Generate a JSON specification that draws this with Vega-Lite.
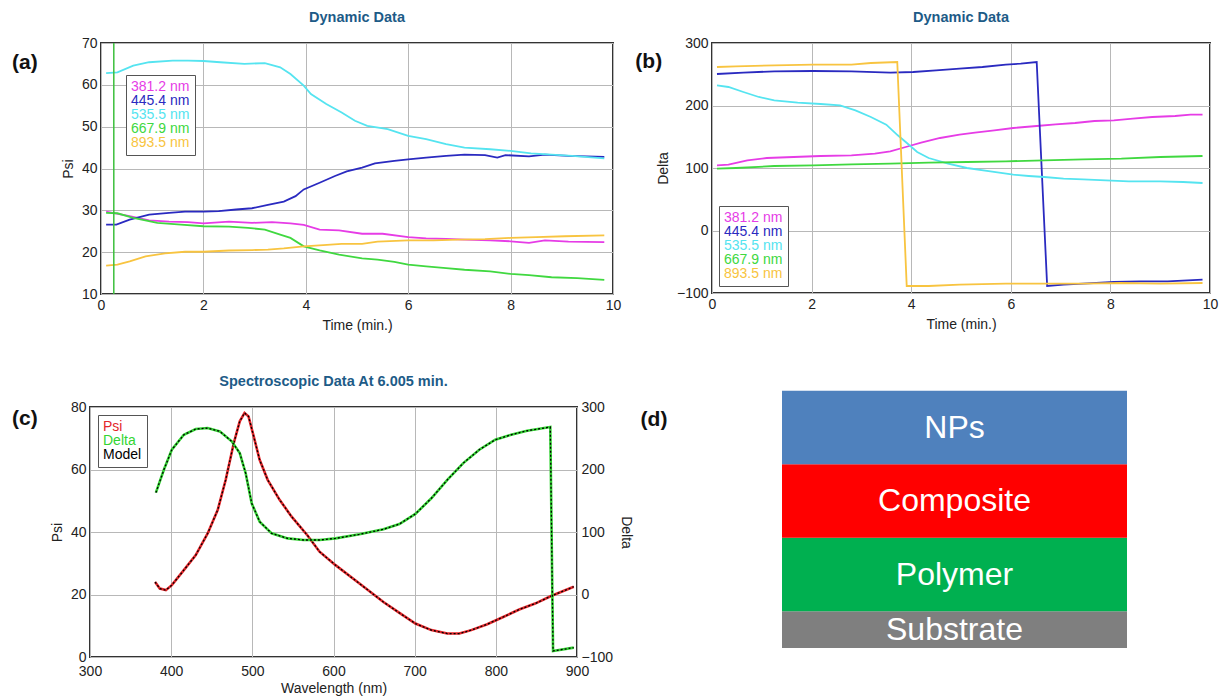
{
  "$schema": "https://vega.github.io/schema/vega-lite/v6.json",
  "background": "white",
  "padding": {"left": 12, "top": 8, "right": 3, "bottom": 0},
  "datasets": {
    "a": [
      {"s":"381.2 nm","t":0.1,"v":29.7},{"s":"381.2 nm","t":0.56,"v":28.6},{"s":"381.2 nm","t":0.94,"v":27.6},{"s":"381.2 nm","t":1.33,"v":27.3},{"s":"381.2 nm","t":1.7,"v":27.2},{"s":"381.2 nm","t":2.0,"v":26.9},{"s":"381.2 nm","t":2.5,"v":27.3},{"s":"381.2 nm","t":2.95,"v":27.0},{"s":"381.2 nm","t":3.34,"v":27.2},{"s":"381.2 nm","t":3.7,"v":26.9},{"s":"381.2 nm","t":3.96,"v":26.5},{"s":"381.2 nm","t":4.27,"v":25.4},{"s":"381.2 nm","t":4.65,"v":25.2},{"s":"381.2 nm","t":5.1,"v":24.4},{"s":"381.2 nm","t":5.5,"v":24.4},{"s":"381.2 nm","t":6.0,"v":23.6},{"s":"381.2 nm","t":6.35,"v":23.3},{"s":"381.2 nm","t":6.74,"v":23.2},{"s":"381.2 nm","t":7.1,"v":23.0},{"s":"381.2 nm","t":7.6,"v":22.8},{"s":"381.2 nm","t":8.0,"v":22.6},{"s":"381.2 nm","t":8.36,"v":22.2},{"s":"381.2 nm","t":8.67,"v":22.8},{"s":"381.2 nm","t":9.13,"v":22.5},{"s":"381.2 nm","t":9.83,"v":22.4},
      {"s":"445.4 nm","t":0.1,"v":26.6},{"s":"445.4 nm","t":0.3,"v":26.6},{"s":"445.4 nm","t":0.56,"v":27.8},{"s":"445.4 nm","t":0.94,"v":29.0},{"s":"445.4 nm","t":1.33,"v":29.4},{"s":"445.4 nm","t":1.64,"v":29.7},{"s":"445.4 nm","t":2.0,"v":29.7},{"s":"445.4 nm","t":2.3,"v":29.8},{"s":"445.4 nm","t":2.64,"v":30.2},{"s":"445.4 nm","t":2.95,"v":30.5},{"s":"445.4 nm","t":3.26,"v":31.3},{"s":"445.4 nm","t":3.57,"v":32.1},{"s":"445.4 nm","t":3.8,"v":33.4},{"s":"445.4 nm","t":3.96,"v":35.0},{"s":"445.4 nm","t":4.27,"v":36.6},{"s":"445.4 nm","t":4.57,"v":38.2},{"s":"445.4 nm","t":4.8,"v":39.3},{"s":"445.4 nm","t":5.1,"v":40.2},{"s":"445.4 nm","t":5.35,"v":41.2},{"s":"445.4 nm","t":5.73,"v":41.8},{"s":"445.4 nm","t":6.0,"v":42.2},{"s":"445.4 nm","t":6.35,"v":42.6},{"s":"445.4 nm","t":6.74,"v":43.0},{"s":"445.4 nm","t":7.1,"v":43.3},{"s":"445.4 nm","t":7.5,"v":43.2},{"s":"445.4 nm","t":7.74,"v":42.6},{"s":"445.4 nm","t":7.9,"v":43.2},{"s":"445.4 nm","t":8.36,"v":42.9},{"s":"445.4 nm","t":8.67,"v":43.3},{"s":"445.4 nm","t":9.13,"v":43.0},{"s":"445.4 nm","t":9.83,"v":42.8},
      {"s":"535.5 nm","t":0.1,"v":62.8},{"s":"535.5 nm","t":0.32,"v":63.0},{"s":"535.5 nm","t":0.63,"v":64.6},{"s":"535.5 nm","t":0.94,"v":65.4},{"s":"535.5 nm","t":1.4,"v":65.8},{"s":"535.5 nm","t":1.7,"v":65.8},{"s":"535.5 nm","t":2.0,"v":65.7},{"s":"535.5 nm","t":2.33,"v":65.4},{"s":"535.5 nm","t":2.8,"v":65.0},{"s":"535.5 nm","t":3.2,"v":65.2},{"s":"535.5 nm","t":3.5,"v":64.2},{"s":"535.5 nm","t":3.7,"v":62.6},{"s":"535.5 nm","t":3.96,"v":59.8},{"s":"535.5 nm","t":4.1,"v":57.8},{"s":"535.5 nm","t":4.4,"v":55.4},{"s":"535.5 nm","t":4.7,"v":53.4},{"s":"535.5 nm","t":4.96,"v":51.4},{"s":"535.5 nm","t":5.2,"v":50.2},{"s":"535.5 nm","t":5.6,"v":49.4},{"s":"535.5 nm","t":6.0,"v":47.8},{"s":"535.5 nm","t":6.35,"v":47.0},{"s":"535.5 nm","t":6.74,"v":45.8},{"s":"535.5 nm","t":7.1,"v":45.0},{"s":"535.5 nm","t":7.6,"v":44.6},{"s":"535.5 nm","t":8.0,"v":44.2},{"s":"535.5 nm","t":8.4,"v":43.6},{"s":"535.5 nm","t":8.8,"v":43.3},{"s":"535.5 nm","t":9.2,"v":43.0},{"s":"535.5 nm","t":9.83,"v":42.4},
      {"s":"667.9 nm","t":0.1,"v":29.4},{"s":"667.9 nm","t":0.32,"v":29.3},{"s":"667.9 nm","t":0.63,"v":28.2},{"s":"667.9 nm","t":1.1,"v":27.0},{"s":"667.9 nm","t":1.56,"v":26.6},{"s":"667.9 nm","t":2.0,"v":26.2},{"s":"667.9 nm","t":2.5,"v":26.1},{"s":"667.9 nm","t":2.87,"v":25.8},{"s":"667.9 nm","t":3.2,"v":25.4},{"s":"667.9 nm","t":3.5,"v":24.2},{"s":"667.9 nm","t":3.7,"v":23.4},{"s":"667.9 nm","t":3.96,"v":21.4},{"s":"667.9 nm","t":4.27,"v":20.4},{"s":"667.9 nm","t":4.65,"v":19.4},{"s":"667.9 nm","t":5.1,"v":18.5},{"s":"667.9 nm","t":5.4,"v":18.2},{"s":"667.9 nm","t":5.73,"v":17.7},{"s":"667.9 nm","t":6.0,"v":17.0},{"s":"667.9 nm","t":6.35,"v":16.6},{"s":"667.9 nm","t":6.74,"v":16.2},{"s":"667.9 nm","t":7.1,"v":15.8},{"s":"667.9 nm","t":7.6,"v":15.4},{"s":"667.9 nm","t":8.0,"v":14.8},{"s":"667.9 nm","t":8.36,"v":14.5},{"s":"667.9 nm","t":8.8,"v":14.0},{"s":"667.9 nm","t":9.3,"v":13.8},{"s":"667.9 nm","t":9.83,"v":13.4},
      {"s":"893.5 nm","t":0.1,"v":16.8},{"s":"893.5 nm","t":0.32,"v":17.0},{"s":"893.5 nm","t":0.56,"v":17.8},{"s":"893.5 nm","t":0.87,"v":19.0},{"s":"893.5 nm","t":1.25,"v":19.7},{"s":"893.5 nm","t":1.64,"v":20.1},{"s":"893.5 nm","t":2.0,"v":20.1},{"s":"893.5 nm","t":2.5,"v":20.4},{"s":"893.5 nm","t":2.95,"v":20.5},{"s":"893.5 nm","t":3.26,"v":20.6},{"s":"893.5 nm","t":3.57,"v":20.9},{"s":"893.5 nm","t":3.96,"v":21.4},{"s":"893.5 nm","t":4.34,"v":21.7},{"s":"893.5 nm","t":4.7,"v":22.0},{"s":"893.5 nm","t":5.1,"v":22.0},{"s":"893.5 nm","t":5.4,"v":22.5},{"s":"893.5 nm","t":6.0,"v":22.8},{"s":"893.5 nm","t":6.5,"v":22.8},{"s":"893.5 nm","t":6.97,"v":23.0},{"s":"893.5 nm","t":7.5,"v":23.1},{"s":"893.5 nm","t":8.0,"v":23.4},{"s":"893.5 nm","t":8.5,"v":23.6},{"s":"893.5 nm","t":9.06,"v":23.8},{"s":"893.5 nm","t":9.83,"v":24.0}
    ],
    "b": [
      {"s":"381.2 nm","t":0.1,"v":104.3},{"s":"381.2 nm","t":0.33,"v":105.3},{"s":"381.2 nm","t":0.71,"v":112.3},{"s":"381.2 nm","t":1.1,"v":116},{"s":"381.2 nm","t":1.64,"v":117.6},{"s":"381.2 nm","t":2.18,"v":119.2},{"s":"381.2 nm","t":2.8,"v":120.3},{"s":"381.2 nm","t":3.27,"v":123},{"s":"381.2 nm","t":3.58,"v":126.7},{"s":"381.2 nm","t":3.89,"v":133.6},{"s":"381.2 nm","t":4.2,"v":140.5},{"s":"381.2 nm","t":4.58,"v":148},{"s":"381.2 nm","t":4.97,"v":153.3},{"s":"381.2 nm","t":5.28,"v":156.5},{"s":"381.2 nm","t":5.67,"v":160.3},{"s":"381.2 nm","t":6.05,"v":164},{"s":"381.2 nm","t":6.52,"v":167.2},{"s":"381.2 nm","t":6.9,"v":169.9},{"s":"381.2 nm","t":7.29,"v":172},{"s":"381.2 nm","t":7.68,"v":175.2},{"s":"381.2 nm","t":8.07,"v":176.3},{"s":"381.2 nm","t":8.45,"v":178.9},{"s":"381.2 nm","t":8.84,"v":181.6},{"s":"381.2 nm","t":9.3,"v":183.2},{"s":"381.2 nm","t":9.61,"v":185.3},{"s":"381.2 nm","t":9.85,"v":185.3},
      {"s":"445.4 nm","t":0.1,"v":250.4},{"s":"445.4 nm","t":0.63,"v":252.5},{"s":"445.4 nm","t":1.25,"v":254.7},{"s":"445.4 nm","t":2.03,"v":255.2},{"s":"445.4 nm","t":2.8,"v":254.7},{"s":"445.4 nm","t":3.58,"v":252.5},{"s":"445.4 nm","t":4.04,"v":253.6},{"s":"445.4 nm","t":4.5,"v":256.3},{"s":"445.4 nm","t":4.97,"v":259},{"s":"445.4 nm","t":5.43,"v":261.6},{"s":"445.4 nm","t":5.9,"v":265.3},{"s":"445.4 nm","t":6.2,"v":267},{"s":"445.4 nm","t":6.52,"v":269.6},{"s":"445.4 nm","t":6.73,"v":-88.8},{"s":"445.4 nm","t":7.06,"v":-86.7},{"s":"445.4 nm","t":7.45,"v":-85},{"s":"445.4 nm","t":8.07,"v":-82.4},{"s":"445.4 nm","t":8.6,"v":-81.3},{"s":"445.4 nm","t":9.15,"v":-81.3},{"s":"445.4 nm","t":9.85,"v":-78.7},
      {"s":"535.5 nm","t":0.1,"v":232.3},{"s":"535.5 nm","t":0.33,"v":229.6},{"s":"535.5 nm","t":0.63,"v":221.6},{"s":"535.5 nm","t":0.94,"v":213.6},{"s":"535.5 nm","t":1.25,"v":208.3},{"s":"535.5 nm","t":1.72,"v":204.5},{"s":"535.5 nm","t":2.18,"v":202.4},{"s":"535.5 nm","t":2.57,"v":200.3},{"s":"535.5 nm","t":2.88,"v":192.3},{"s":"535.5 nm","t":3.19,"v":181.6},{"s":"535.5 nm","t":3.5,"v":169.3},{"s":"535.5 nm","t":3.73,"v":152.3},{"s":"535.5 nm","t":3.89,"v":141.6},{"s":"535.5 nm","t":4.12,"v":125.6},{"s":"535.5 nm","t":4.35,"v":116},{"s":"535.5 nm","t":4.74,"v":106.9},{"s":"535.5 nm","t":5.12,"v":100},{"s":"535.5 nm","t":5.59,"v":94.7},{"s":"535.5 nm","t":6.05,"v":89.3},{"s":"535.5 nm","t":6.36,"v":87.2},{"s":"535.5 nm","t":6.67,"v":85.6},{"s":"535.5 nm","t":7.06,"v":82.9},{"s":"535.5 nm","t":7.45,"v":81.9},{"s":"535.5 nm","t":7.91,"v":80.3},{"s":"535.5 nm","t":8.37,"v":78.7},{"s":"535.5 nm","t":9.0,"v":78.7},{"s":"535.5 nm","t":9.46,"v":77.6},{"s":"535.5 nm","t":9.85,"v":76},
      {"s":"667.9 nm","t":0.1,"v":99},{"s":"667.9 nm","t":0.48,"v":100},{"s":"667.9 nm","t":1.25,"v":103.2},{"s":"667.9 nm","t":2.03,"v":104.3},{"s":"667.9 nm","t":2.8,"v":105.9},{"s":"667.9 nm","t":3.58,"v":107},{"s":"667.9 nm","t":4.35,"v":108.5},{"s":"667.9 nm","t":5.12,"v":109.6},{"s":"667.9 nm","t":5.9,"v":110.7},{"s":"667.9 nm","t":6.67,"v":112.3},{"s":"667.9 nm","t":7.45,"v":113.9},{"s":"667.9 nm","t":8.22,"v":115},{"s":"667.9 nm","t":9.0,"v":117.6},{"s":"667.9 nm","t":9.85,"v":119.2},
      {"s":"893.5 nm","t":0.1,"v":261.6},{"s":"893.5 nm","t":0.48,"v":262.7},{"s":"893.5 nm","t":1.25,"v":264.3},{"s":"893.5 nm","t":2.03,"v":265.3},{"s":"893.5 nm","t":2.8,"v":265.3},{"s":"893.5 nm","t":3.19,"v":268},{"s":"893.5 nm","t":3.72,"v":269.6},{"s":"893.5 nm","t":3.91,"v":-88.8},{"s":"893.5 nm","t":4.35,"v":-88.8},{"s":"893.5 nm","t":4.97,"v":-86.7},{"s":"893.5 nm","t":5.9,"v":-85},{"s":"893.5 nm","t":6.67,"v":-85},{"s":"893.5 nm","t":7.45,"v":-85},{"s":"893.5 nm","t":8.2,"v":-84},{"s":"893.5 nm","t":9.0,"v":-85},{"s":"893.5 nm","t":9.85,"v":-84}
    ],
    "c": [
      {"s":"Psi","wl":380.2,"v":24.0},{"s":"Psi","wl":386,"v":21.9},{"s":"Psi","wl":393.5,"v":21.4},{"s":"Psi","wl":400.8,"v":23.0},{"s":"Psi","wl":415.6,"v":27.8},{"s":"Psi","wl":430.3,"v":32.6},{"s":"Psi","wl":445.1,"v":39.6},{"s":"Psi","wl":457.4,"v":47.1},{"s":"Psi","wl":467.2,"v":56.7},{"s":"Psi","wl":477.1,"v":68.4},{"s":"Psi","wl":484.5,"v":75.4},{"s":"Psi","wl":490.4,"v":78.1},{"s":"Psi","wl":495.3,"v":77.0},{"s":"Psi","wl":501.7,"v":70.6},{"s":"Psi","wl":509,"v":63.1},{"s":"Psi","wl":518.9,"v":56.7},{"s":"Psi","wl":533.6,"v":50.3},{"s":"Psi","wl":548.4,"v":44.9},{"s":"Psi","wl":568,"v":38.9},{"s":"Psi","wl":582.8,"v":33.7},{"s":"Psi","wl":602.5,"v":29.4},{"s":"Psi","wl":632,"v":23.5},{"s":"Psi","wl":661.5,"v":17.6},{"s":"Psi","wl":681.2,"v":14.1},{"s":"Psi","wl":700.9,"v":10.7},{"s":"Psi","wl":720.6,"v":8.6},{"s":"Psi","wl":740.2,"v":7.5},{"s":"Psi","wl":755,"v":7.5},{"s":"Psi","wl":769.7,"v":8.6},{"s":"Psi","wl":789.4,"v":10.5},{"s":"Psi","wl":809.1,"v":12.8},{"s":"Psi","wl":828.8,"v":15.2},{"s":"Psi","wl":848.4,"v":17.1},{"s":"Psi","wl":868.1,"v":19.5},{"s":"Psi","wl":896,"v":22.5},
      {"s":"Delta","wl":381.2,"v":163},{"s":"Delta","wl":391,"v":199.5},{"s":"Delta","wl":400.8,"v":231.6},{"s":"Delta","wl":415.6,"v":255.6},{"s":"Delta","wl":430.3,"v":264.7},{"s":"Delta","wl":445.1,"v":266.3},{"s":"Delta","wl":459.9,"v":261},{"s":"Delta","wl":474.6,"v":245},{"s":"Delta","wl":484.5,"v":226.3},{"s":"Delta","wl":491.8,"v":194.1},{"s":"Delta","wl":499.2,"v":146},{"s":"Delta","wl":509,"v":116.6},{"s":"Delta","wl":523.8,"v":97.9},{"s":"Delta","wl":543.5,"v":89.8},{"s":"Delta","wl":563.2,"v":87.2},{"s":"Delta","wl":582.8,"v":87.2},{"s":"Delta","wl":602.5,"v":89.8},{"s":"Delta","wl":632,"v":96.3},{"s":"Delta","wl":661.5,"v":104.3},{"s":"Delta","wl":681.2,"v":112.8},{"s":"Delta","wl":700.9,"v":128.9},{"s":"Delta","wl":720.6,"v":154},{"s":"Delta","wl":740.2,"v":183.4},{"s":"Delta","wl":759.9,"v":210.2},{"s":"Delta","wl":779.6,"v":231.6},{"s":"Delta","wl":799.3,"v":247.6},{"s":"Delta","wl":818.9,"v":255.6},{"s":"Delta","wl":838.6,"v":262},{"s":"Delta","wl":867.1,"v":267.9},{"s":"Delta","wl":870.5,"v":-90.4},{"s":"Delta","wl":896,"v":-85}
    ],
    "d": [
      {"layer":"Substrate","thick":1,"ord":1},
      {"layer":"Polymer","thick":2,"ord":2},
      {"layer":"Composite","thick":2,"ord":3},
      {"layer":"NPs","thick":2,"ord":4}
    ]
  },
  "spacing": 39,
  "resolve": {"scale": {"color": "independent"}, "legend": {"color": "independent"}},
  "vconcat": [
    {
      "spacing": 12,
      "resolve": {"scale": {"color": "independent", "x": "independent"}, "legend": {"color": "independent"}},
      "hconcat": [
        {
          "width": 36, "height": 40,
          "view": {"stroke": null},
          "data": {"values": [{"lbl": "(a)"}]},
          "mark": {"type": "text", "fontSize": 21, "fontWeight": "bold", "color": "#111", "align": "left"},
          "encoding": {"x": {"datum": 0, "type": "quantitative", "scale": {"domain": [0, 1]}, "axis": null}, "text": {"field": "lbl"}}
        },
        {
          "width": 512, "height": 251,
          "title": "Dynamic Data",
          "layer": [
            {
              "data": {"name": "a"},
              "mark": {"type": "line", "strokeWidth": 1.8},
              "encoding": {
                "x": {"field": "t", "type": "quantitative", "scale": {"domain": [0, 10], "nice": false}, "axis": {"title": "Time (min.)", "values": [0, 2, 4, 6, 8, 10]}},
                "y": {"field": "v", "type": "quantitative", "scale": {"domain": [10, 70], "nice": false, "zero": false}, "axis": {"title": "Psi", "values": [10, 20, 30, 40, 50, 60, 70]}},
                "color": {"field": "s", "type": "nominal",
                  "scale": {"domain": ["381.2 nm", "445.4 nm", "535.5 nm", "667.9 nm", "893.5 nm"], "range": ["#e63ce6", "#2a2ac0", "#55e4f0", "#40d840", "#f8c440"]},
                  "legend": {"title": null, "orient": "none", "legendX": 25, "legendY": 32, "symbolSize": 0, "symbolStrokeWidth": 0, "labelOffset": -14,
                    "encode": {"labels": {"update": {"fill": {"signal": "datum.value == '381.2 nm' ? '#e63ce6' : datum.value == '445.4 nm' ? '#2a2ac0' : datum.value == '535.5 nm' ? '#55e4f0' : datum.value == '667.9 nm' ? '#40d840' : '#f8c440'"}}}}}}
              }
            },
            {
              "data": {"values": [{"t": 0.25}]},
              "mark": {"type": "rule", "color": "#3cbf3c", "strokeWidth": 1.5},
              "encoding": {"x": {"field": "t", "type": "quantitative"}}
            }
          ]
        },
        {
          "width": 498, "height": 250,
          "title": "Dynamic Data",
          "layer": [
            {
              "data": {"name": "b"},
              "mark": {"type": "line", "strokeWidth": 1.8},
              "encoding": {
                "x": {"field": "t", "type": "quantitative", "scale": {"domain": [0, 10], "nice": false}, "axis": {"title": "Time (min.)", "values": [0, 2, 4, 6, 8, 10]}},
                "y": {"field": "v", "type": "quantitative", "scale": {"domain": [-100, 300], "nice": false}, "axis": {"title": "Delta", "values": [-100, 0, 100, 200, 300]}},
                "color": {"field": "s", "type": "nominal",
                  "scale": {"domain": ["381.2 nm", "445.4 nm", "535.5 nm", "667.9 nm", "893.5 nm"], "range": ["#e63ce6", "#2a2ac0", "#55e4f0", "#40d840", "#f8c440"]},
                  "legend": {"title": null, "orient": "bottom-left", "offset": 7, "symbolSize": 0, "symbolStrokeWidth": 0, "labelOffset": -14,
                    "encode": {"labels": {"update": {"fill": {"signal": "datum.value == '381.2 nm' ? '#e63ce6' : datum.value == '445.4 nm' ? '#2a2ac0' : datum.value == '535.5 nm' ? '#55e4f0' : datum.value == '667.9 nm' ? '#40d840' : '#f8c440'"}}}}}}
              }
            },
            {
              "data": {"values": [{"lbl": "(b)"}]},
              "mark": {"type": "text", "fontSize": 21, "fontWeight": "bold", "color": "#111"},
              "encoding": {"x": {"datum": -1.27, "type": "quantitative"}, "y": {"datum": 269.6, "type": "quantitative"}, "text": {"field": "lbl"}}
            }
          ]
        }
      ]
    },
    {
      "spacing": 6,
      "resolve": {"scale": {"color": "independent", "x": "independent"}, "legend": {"color": "independent"}},
      "hconcat": [
        {
          "width": 31, "height": 24,
          "view": {"stroke": null},
          "data": {"values": [{"lbl": "(c)"}]},
          "mark": {"type": "text", "fontSize": 21, "fontWeight": "bold", "color": "#111", "align": "left"},
          "encoding": {"x": {"datum": 0, "type": "quantitative", "scale": {"domain": [0, 1]}, "axis": null}, "text": {"field": "lbl"}}
        },
        {
          "width": 487, "height": 250,
          "title": "Spectroscopic Data At 6.005 min.",
          "layer": [
            {
              "layer": [
                {
                  "data": {"name": "c"},
                  "transform": [{"filter": "datum.s == 'Psi'"}],
                  "mark": {"type": "line", "strokeWidth": 2.6},
                  "encoding": {
                    "x": {"field": "wl", "type": "quantitative", "scale": {"domain": [300, 900], "nice": false}, "axis": {"title": "Wavelength (nm)", "labelPadding": 7, "titlePadding": 3, "values": [300, 400, 500, 600, 700, 800, 900]}},
                    "y": {"field": "v", "type": "quantitative", "scale": {"domain": [0, 80], "nice": false}, "axis": {"title": "Psi", "values": [0, 20, 40, 60, 80]}},
                    "color": {"field": "s", "type": "nominal",
                      "scale": {"domain": ["Psi", "Delta", "Model"], "range": ["#e3262a", "#33d433", "#000000"]},
                      "legend": {"title": null, "orient": "top-left", "offset": 8, "symbolSize": 0, "symbolStrokeWidth": 0, "labelOffset": -14,
                        "encode": {"labels": {"update": {"fill": {"signal": "datum.value == 'Psi' ? '#e3262a' : datum.value == 'Delta' ? '#33d433' : '#000000'"}}}}}}
                  }
                },
                {
                  "data": {"name": "c"},
                  "transform": [{"filter": "datum.s == 'Psi'"}],
                  "mark": {"type": "line", "color": "#000000", "strokeWidth": 1.3, "strokeDash": [2, 2]},
                  "encoding": {"x": {"field": "wl", "type": "quantitative"}, "y": {"field": "v", "type": "quantitative"}}
                }
              ]
            },
            {
              "layer": [
                {
                  "data": {"name": "c"},
                  "transform": [{"filter": "datum.s == 'Delta'"}],
                  "mark": {"type": "line", "strokeWidth": 2.6},
                  "encoding": {
                    "x": {"field": "wl", "type": "quantitative"},
                    "y": {"field": "v", "type": "quantitative", "scale": {"domain": [-100, 300], "nice": false}, "axis": {"title": "Delta", "orient": "right", "grid": false, "values": [-100, 0, 100, 200, 300]}},
                    "color": {"field": "s", "type": "nominal"}
                  }
                },
                {
                  "data": {"name": "c"},
                  "transform": [{"filter": "datum.s == 'Delta'"}],
                  "mark": {"type": "line", "color": "#000000", "strokeWidth": 1.3, "strokeDash": [2, 2]},
                  "encoding": {"x": {"field": "wl", "type": "quantitative"}, "y": {"field": "v", "type": "quantitative"}}
                }
              ]
            }
          ],
          "resolve": {"scale": {"y": "independent"}}
        },
        {
          "width": 345, "height": 241,
          "view": {"stroke": null},
          "layer": [
            {
              "data": {"name": "d"},
              "transform": [{"stack": "thick", "groupby": [], "sort": [{"field": "ord", "order": "ascending"}], "as": ["y0", "y1"]}],
              "mark": {"type": "rect"},
              "encoding": {
                "y": {"field": "y0", "type": "quantitative", "scale": {"domain": [0, 6.56], "nice": false, "zero": false}, "axis": null},
                "y2": {"field": "y1"},
                "color": {"field": "layer", "type": "nominal", "scale": {"domain": ["NPs", "Composite", "Polymer", "Substrate"], "range": ["#4f81bd", "#ff0000", "#00b050", "#7f7f7f"]}, "legend": null}
              }
            },
            {
              "data": {"name": "d"},
              "transform": [
                {"stack": "thick", "groupby": [], "sort": [{"field": "ord", "order": "ascending"}], "as": ["y0", "y1"]},
                {"fold": ["y0", "y1"], "as": ["k", "yv"]}
              ],
              "mark": {"type": "text", "color": "white", "fontSize": 32},
              "encoding": {
                "y": {"aggregate": "mean", "field": "yv", "type": "quantitative"},
                "text": {"field": "layer", "type": "nominal"}
              }
            },
            {
              "data": {"values": [{"lbl": "(d)"}]},
              "mark": {"type": "text", "fontSize": 21, "fontWeight": "bold", "color": "#111"},
              "encoding": {"x": {"datum": -0.371, "type": "quantitative", "scale": {"domain": [0, 1]}, "axis": null}, "y": {"datum": 6.21, "type": "quantitative"}, "text": {"field": "lbl"}}
            }
          ]
        }
      ]
    }
  ],
  "config": {
    "font": "Liberation Sans",
    "view": {"stroke": "#333333", "strokeWidth": 2},
    "axis": {"grid": true, "gridColor": "#b8b8b8", "gridWidth": 1, "ticks": false, "domain": false, "labelFontSize": 14, "labelColor": "#222222", "titleFontSize": 14, "titleFontWeight": "normal", "titleColor": "#222222", "labelFlush": false, "labelOverlap": false, "labelPadding": 4, "titlePadding": 6},
    "title": {"fontSize": 14.5, "fontWeight": "bold", "color": "#1d5b87", "offset": 11},
    "legend": {"labelFontSize": 14, "symbolSize": 0, "symbolStrokeWidth": 0, "symbolOpacity": 0, "labelOffset": 0, "rowPadding": 0, "padding": 5, "strokeColor": "#555555", "fillColor": "white", "cornerRadius": 0}
  }
}
